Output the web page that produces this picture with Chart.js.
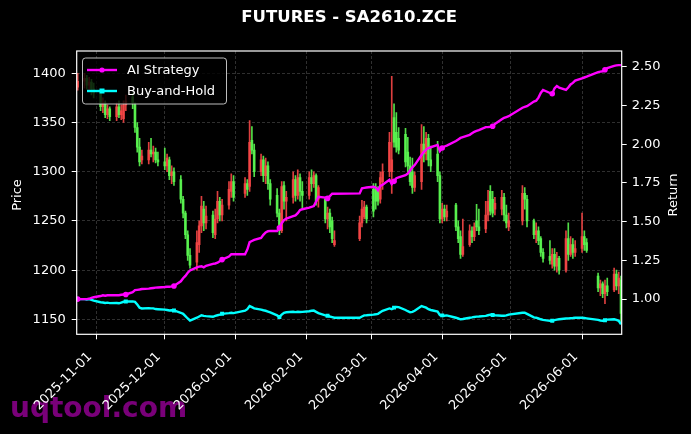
<!DOCTYPE html>
<html><head><meta charset="utf-8">
<script src="https://cdn.jsdelivr.net/npm/chart.js@4.4.1/dist/chart.umd.min.js"></script>
<style>html,body{margin:0;padding:0;background:#000;overflow:hidden}canvas{display:block}</style>
</head><body>
<canvas id="c" width="691" height="434"></canvas>
<script>
const DATES = [
'2025-10-24','2025-10-27','2025-10-28','2025-10-29','2025-10-30','2025-10-31',
'2025-11-03','2025-11-04','2025-11-05','2025-11-06','2025-11-07',
'2025-11-10','2025-11-11','2025-11-12','2025-11-13','2025-11-14',
'2025-11-17','2025-11-18','2025-11-19','2025-11-20','2025-11-21',
'2025-11-24','2025-11-25','2025-11-26','2025-11-27','2025-11-28',
'2025-12-01','2025-12-02','2025-12-03','2025-12-04','2025-12-05',
'2025-12-08','2025-12-09','2025-12-10','2025-12-11','2025-12-12',
'2025-12-15','2025-12-16','2025-12-17','2025-12-18','2025-12-19',
'2025-12-22','2025-12-23','2025-12-24','2025-12-25','2025-12-26',
'2025-12-29','2025-12-30','2025-12-31',
'2026-01-05','2026-01-06','2026-01-07','2026-01-08','2026-01-09',
'2026-01-12','2026-01-13','2026-01-14','2026-01-15','2026-01-16',
'2026-01-19','2026-01-20','2026-01-21','2026-01-22','2026-01-23',
'2026-01-26','2026-01-27','2026-01-28','2026-01-29','2026-01-30',
'2026-02-02','2026-02-03','2026-02-04','2026-02-05','2026-02-06',
'2026-02-09','2026-02-10','2026-02-11','2026-02-12','2026-02-13',
'2026-02-24','2026-02-25','2026-02-26','2026-02-27',
'2026-03-02','2026-03-03','2026-03-04','2026-03-05','2026-03-06',
'2026-03-09','2026-03-10','2026-03-11','2026-03-12','2026-03-13',
'2026-03-16','2026-03-17','2026-03-18','2026-03-19','2026-03-20',
'2026-03-23','2026-03-24','2026-03-25','2026-03-26','2026-03-27',
'2026-03-30','2026-03-31',
'2026-04-01','2026-04-02','2026-04-03',
'2026-04-07','2026-04-08','2026-04-09','2026-04-10',
'2026-04-13','2026-04-14','2026-04-15','2026-04-16','2026-04-17',
'2026-04-20','2026-04-21','2026-04-22','2026-04-23','2026-04-24',
'2026-04-27','2026-04-28','2026-04-29','2026-04-30',
'2026-05-06','2026-05-07','2026-05-08',
'2026-05-11','2026-05-12','2026-05-13','2026-05-14','2026-05-15',
'2026-05-18','2026-05-19','2026-05-20','2026-05-21','2026-05-22',
'2026-05-25','2026-05-26','2026-05-27','2026-05-28','2026-05-29',
'2026-06-01','2026-06-02','2026-06-03',
'2026-06-08','2026-06-09','2026-06-10','2026-06-11','2026-06-12',
'2026-06-15','2026-06-16','2026-06-17','2026-06-18'
];
const OPEN = [
1386,1392,1395,1388,1391,1384, 1380,1366,1370,1358,1364, 1356,1366,1358,1354,1368,
1376,1368,1345,1325,1312, 1312,1322,1318,1320,1312, 1310,1306,1312,1296,1300,
1292,1272,1258,1236,1215, 1208,1226,1245,1262,1248, 1256,1236,1252,1270,1256,
1266,1280,1290, 1278,1288,1285,1332,1322, 1300,1312,1296,1306,1288,
1276,1258,1240,1286,1270, 1274,1292,1276,1294,1280, 1276,1294,1288,1296,1272,
1272,1252,1258,1250,1226, 1232,1248,1254,1264,
1282,1284,1282,1272,1290, 1300,1300,1355,1340,1334, 1338,1320,1306,1300,1284,
1290,1328,1318,1334,1312, 1318,1296,
1252,1262,1254, 1266,1244,1234,1216, 1226,1240,1234,1250,1244,
1242,1256,1280,1272,1262, 1262,1274,1256,1244,
1250,1278,1272, 1250,1236,1240,1232,1218, 1214,1206,1216,1204,1212,
1200,1232,1216,1226,1218, 1222,1234,1228,
1194,1182,1186,1176,1184, 1180,1196,1184,1190
];
const HIGH = [
1400,1400,1398,1396,1394,1390, 1383,1375,1372,1368,1366, 1370,1372,1368,1372,1378,
1380,1370,1350,1334,1322, 1330,1334,1326,1324,1320, 1324,1318,1315,1306,1304,
1296,1275,1260,1240,1222, 1240,1250,1275,1270,1265, 1260,1262,1280,1274,1272,
1290,1298,1296, 1294,1292,1352,1346,1328, 1318,1316,1314,1310,1292,
1283,1262,1290,1290,1280, 1300,1296,1302,1298,1290, 1300,1302,1300,1298,1286,
1274,1264,1262,1254,1240, 1255,1271,1270,1266,
1288,1288,1285,1300,1308, 1340,1397,1369,1360,1345, 1344,1335,1315,1314,1300,
1348,1346,1340,1338,1326, 1331,1300,
1268,1266,1266, 1268,1250,1240,1252, 1246,1244,1248,1267,1262,
1270,1281,1286,1280,1274, 1281,1278,1266,1258,
1286,1284,1276, 1252,1248,1244,1234,1222, 1230,1222,1222,1218,1214,
1240,1248,1234,1232,1230, 1258,1240,1232,
1197,1190,1188,1190,1192, 1202,1200,1198,1194
];
const LOW = [
1383,1385,1384,1382,1378,1375, 1362,1360,1355,1354,1352, 1352,1355,1353,1350,1362,
1364,1340,1320,1306,1308, 1308,1315,1310,1309,1306, 1302,1300,1292,1288,1286,
1268,1253,1232,1210,1202, 1200,1218,1238,1240,1242, 1233,1232,1248,1250,1250,
1262,1274,1270, 1274,1276,1280,1318,1295, 1296,1290,1288,1282,1266,
1254,1236,1238,1262,1250, 1268,1270,1272,1270,1262, 1272,1280,1284,1266,1264,
1248,1242,1238,1228,1224, 1230,1244,1252,1248,
1254,1262,1266,1268,1282, 1295,1278,1325,1320,1318, 1305,1300,1286,1278,1280,
1282,1310,1312,1306,1300, 1290,1248,
1248,1250,1250, 1240,1228,1212,1214, 1224,1228,1230,1240,1236,
1238,1250,1256,1254,1256, 1256,1250,1243,1240,
1246,1262,1244, 1232,1228,1226,1214,1208, 1206,1202,1200,1198,1196,
1198,1210,1214,1212,1214, 1218,1220,1218,
1178,1174,1172,1166,1174, 1178,1180,1176,1148
];
const CLOSE = [
1392,1395,1388,1391,1384,1380, 1366,1370,1358,1364,1356, 1366,1358,1362,1368,1372,
1370,1345,1325,1310,1316, 1322,1318,1320,1312,1310, 1306,1314,1296,1300,1290,
1272,1258,1236,1215,1205, 1228,1245,1265,1248,1255, 1238,1252,1270,1256,1266,
1282,1290,1274, 1288,1282,1330,1322,1300, 1312,1296,1306,1288,1272,
1258,1240,1285,1270,1274, 1292,1276,1294,1280,1276, 1294,1288,1296,1270,1284,
1252,1258,1244,1232,1230, 1248,1262,1264,1252,
1260,1270,1270,1294,1300, 1330,1312,1330,1325,1322, 1310,1306,1290,1284,1296,
1328,1318,1334,1312,1306, 1296,1252,
1262,1254,1260, 1244,1232,1216,1224, 1240,1234,1244,1244,1240,
1256,1270,1260,1258,1268, 1274,1256,1248,1250,
1278,1272,1250, 1236,1240,1230,1218,1212, 1210,1216,1204,1212,1200,
1232,1216,1226,1218,1222, 1234,1226,1220,
1182,1186,1176,1184,1178, 1196,1184,1192,1156
];
const AI_STRATEGY = [
1.000,1.000,1.000,1.002,1.008,1.012, 1.020,1.025,1.022,1.025,1.025, 1.026,1.025,1.028,1.030,1.030,
1.045,1.058,1.060,1.062,1.065, 1.068,1.070,1.072,1.074,1.075, 1.078,1.080,1.080,1.082,1.085,
1.115,1.135,1.150,1.170,1.185, 1.205,1.210,1.212,1.205,1.215, 1.227,1.230,1.235,1.245,1.255,
1.275,1.290,1.290, 1.290,1.320,1.368,1.375,1.382, 1.395,1.415,1.430,1.438,1.440,
1.440,1.460,1.490,1.510,1.520, 1.535,1.540,1.555,1.575,1.580, 1.590,1.595,1.600,1.630,1.660,
1.655,1.650,1.665,1.680,1.680, 1.682,1.715,1.718,1.720,
1.725,1.720,1.702,1.730,1.738, 1.770,1.742,1.760,1.780,1.785, 1.800,1.810,1.830,1.850,1.865,
1.930,1.950,1.965,1.975,1.980, 1.995,1.955,
1.975,1.985,1.990, 2.020,2.030,2.040,2.045, 2.060,2.070,2.080,2.085,2.090,
2.110,2.110,2.112,2.115,2.130, 2.160,2.170,2.175,2.180,
2.235,2.240,2.245, 2.275,2.280,2.300,2.330,2.350, 2.330,2.325,2.360,2.375,2.365,
2.350,2.365,2.385,2.395,2.410, 2.425,2.430,2.435,
2.465,2.468,2.470,2.480,2.490, 2.505,2.508,2.510,2.510
];
const BUY_AND_HOLD = [
1.000,1.000,0.998,1.000,0.995,0.990, 0.980,0.978,0.975,0.977,0.974, 0.975,0.973,0.978,0.983,0.985,
0.985,0.982,0.965,0.945,0.940, 0.942,0.940,0.940,0.936,0.935, 0.932,0.930,0.927,0.928,0.927,
0.912,0.905,0.890,0.875,0.862, 0.880,0.888,0.896,0.892,0.890, 0.886,0.892,0.896,0.900,0.905,
0.910,0.912,0.910, 0.925,0.935,0.955,0.948,0.940, 0.932,0.928,0.925,0.920,0.915,
0.895,0.885,0.900,0.912,0.915, 0.918,0.916,0.918,0.917,0.918, 0.922,0.925,0.926,0.918,0.910,
0.895,0.893,0.888,0.884,0.880, 0.880,0.888,0.895,0.896,
0.900,0.902,0.905,0.915,0.925, 0.940,0.935,0.945,0.950,0.948, 0.930,0.922,0.915,0.918,0.925,
0.955,0.950,0.945,0.935,0.930, 0.920,0.897,
0.895,0.893,0.895, 0.880,0.875,0.870,0.872, 0.880,0.882,0.885,0.887,0.888,
0.892,0.896,0.900,0.898,0.896, 0.893,0.893,0.895,0.900,
0.912,0.913,0.905, 0.882,0.880,0.875,0.870,0.866, 0.860,0.860,0.865,0.868,0.870,
0.875,0.876,0.877,0.878,0.880, 0.880,0.878,0.876,
0.866,0.862,0.860,0.864,0.868, 0.870,0.866,0.860,0.838
];
const X_TICK_LABELS = ['2025-11-01','2025-12-01','2026-01-01','2026-02-01','2026-03-01','2026-04-01','2026-05-01','2026-06-01'];
const PRICE_TICKS = [1150,1200,1250,1300,1350,1400];
const RETURN_TICKS = [1.00,1.25,1.50,1.75,2.00,2.25,2.50];

const DAY0 = Date.parse('2025-11-01');
const toDay = s => (Date.parse(s) - DAY0) / 86400000;
const FONT = 'DejaVu Sans';
const UP = 'rgba(245,70,70,0.9)', DOWN = 'rgba(90,245,80,0.9)';
const candleColors = CLOSE.map((c,i) => c >= OPEN[i] ? UP : DOWN);
const MARK_EVERY = 15;

const wickData = DATES.map((d,i) => ({x: toDay(d), y: [LOW[i], HIGH[i]]}));
const bodyData = DATES.map((d,i) => {
  let lo = Math.min(OPEN[i], CLOSE[i]), hi = Math.max(OPEN[i], CLOSE[i]);
  if (hi - lo < 1) hi = lo + 1;
  return {x: toDay(d), y: [lo, hi]};
});
const aiData = DATES.map((d,i) => ({x: toDay(d), y: AI_STRATEGY[i]}));
const bhData = DATES.map((d,i) => ({x: toDay(d), y: BUY_AND_HOLD[i]}));
const markR = r => DATES.map((d,i) => i % MARK_EVERY === 0 ? r : 0);

const gridCommon = {color: 'rgba(150,150,150,0.45)', lineWidth: 0.7, tickColor: '#ffffff', tickLength: 5, tickWidth: 1, tickBorderDash: []};
const borderCommon = {display: false, dash: [3, 2]};
const TICK_FONT = {family: FONT, size: 13};

const frameLegendPlugin = {
  id: 'frameLegend',
  beforeDraw(chart) {
    const ctx = chart.ctx;
    ctx.save();
    ctx.fillStyle = '#000';
    ctx.fillRect(0, 0, chart.width, chart.height);
    ctx.font = 'bold 28px ' + FONT;
    ctx.fillStyle = 'rgba(128,0,128,0.95)';
    ctx.textBaseline = 'alphabetic';
    ctx.textAlign = 'left';
    ctx.fillText('uqtool.com', 10, 417);
    ctx.restore();
  },
  afterDatasetsDraw(chart) {
    const ctx = chart.ctx, a = chart.chartArea;
    ctx.save();
    ctx.strokeStyle = '#ffffff';
    ctx.lineWidth = 1.2;
    ctx.strokeRect(a.left, a.top, a.right - a.left, a.bottom - a.top);
    const lx = 82.5, ly = 58, lw = 144, lh = 46;
    ctx.beginPath();
    ctx.roundRect(lx, ly, lw, lh, 3);
    ctx.fillStyle = 'rgba(0,0,0,0.8)';
    ctx.fill();
    ctx.strokeStyle = 'rgba(210,210,210,0.9)';
    ctx.lineWidth = 1;
    ctx.stroke();
    const lines = chart.data.datasets.filter(d => d.type === 'line');
    lines.forEach((ds, i) => {
      const y = 70 + i * 21;
      ctx.strokeStyle = ds.borderColor;
      ctx.lineWidth = 2.4;
      ctx.beginPath(); ctx.moveTo(87, y); ctx.lineTo(117, y); ctx.stroke();
      ctx.fillStyle = ds.borderColor;
      if (ds.pointStyle === 'rect') ctx.fillRect(99.5, y - 2.5, 5, 5);
      else { ctx.beginPath(); ctx.arc(102, y, 2.6, 0, Math.PI * 2); ctx.fill(); }
      ctx.fillStyle = '#ffffff';
      ctx.font = '13px ' + FONT;
      ctx.textBaseline = 'middle';
      ctx.textAlign = 'left';
      ctx.fillText(ds.label, 127, y + 0.5);
    });
    ctx.restore();
  },
  afterDraw(chart) {
    const ctx = chart.ctx, a = chart.chartArea;
    ctx.save();
    ctx.fillStyle = '#ffffff';
    ctx.textAlign = 'center';
    ctx.textBaseline = 'middle';
    ctx.font = 'bold 16.5px ' + FONT;
    ctx.fillText('FUTURES - SA2610.ZCE', (a.left + a.right) / 2, 18);
    ctx.font = '13px ' + FONT;
    const cy = 195;
    ctx.translate(17.5, cy); ctx.rotate(-Math.PI / 2); ctx.fillText('Price', 0, 0);
    ctx.setTransform(1, 0, 0, 1, 0, 0);
    ctx.translate(673.5, cy); ctx.rotate(-Math.PI / 2); ctx.fillText('Return', 0, 0);
    ctx.restore();
  }
};

new Chart(document.getElementById('c'), {
  type: 'bar',
  data: {
    datasets: [
      {type: 'line', label: 'AI Strategy', data: aiData, yAxisID: 'y1', borderColor: '#ff00ff', backgroundColor: '#ff00ff',
       borderWidth: 2.4, pointRadius: markR(2.8), pointStyle: 'circle', pointBorderWidth: 0, tension: 0, order: 0},
      {type: 'line', label: 'Buy-and-Hold', data: bhData, yAxisID: 'y1', borderColor: '#00ffff', backgroundColor: '#00ffff',
       borderWidth: 2.4, pointRadius: markR(2.8), pointStyle: 'rect', pointBorderWidth: 0, tension: 0, order: 1},
      {type: 'bar', label: 'body', data: bodyData, yAxisID: 'y', backgroundColor: candleColors, barThickness: 2, grouped: false, order: 2},
      {type: 'bar', label: 'wick', data: wickData, yAxisID: 'y', backgroundColor: candleColors, barThickness: 1, grouped: false, order: 3}
    ]
  },
  options: {
    responsive: false,
    animation: false,
    devicePixelRatio: 1,
    layout: {padding: {top: 51, left: 0, right: 0, bottom: 0}},
    plugins: {legend: {display: false}, tooltip: {enabled: false}, title: {display: false}},
    scales: {
      x: {
        type: 'linear', min: -8.42, max: 229.3, offset: false,
        afterBuildTicks: s => { s.ticks = X_TICK_LABELS.map(l => ({value: toDay(l)})); },
        afterFit: s => { s.height = 99.7; },
        ticks: {autoSkip: false, minRotation: 45, maxRotation: 45, color: '#ffffff', padding: 10, labelOffset: -6,
                font: TICK_FONT,
                callback: v => { const i = X_TICK_LABELS.findIndex(l => toDay(l) === v); return i >= 0 ? X_TICK_LABELS[i] : ''; }},
        grid: Object.assign({offset: false}, gridCommon),
        border: borderCommon
      },
      y: {
        type: 'linear', position: 'left', min: 1134.8, max: 1422.7,
        afterBuildTicks: s => { s.ticks = PRICE_TICKS.map(v => ({value: v})); },
        afterFit: s => { s.width = 76.7; },
        ticks: {color: '#ffffff', padding: 6, font: TICK_FONT, callback: v => String(v)},
        grid: gridCommon,
        border: borderCommon
      },
      y1: {
        type: 'linear', position: 'right', min: 0.773, max: 2.601,
        afterBuildTicks: s => { s.ticks = RETURN_TICKS.map(v => ({value: v})); },
        afterFit: s => { s.width = 69.3; },
        ticks: {color: '#ffffff', padding: 5, font: TICK_FONT, callback: v => Number(v).toFixed(2)},
        grid: Object.assign({}, gridCommon, {drawOnChartArea: false}),
        border: {display: false}
      }
    }
  },
  plugins: [frameLegendPlugin]
});
</script>
</body></html>
